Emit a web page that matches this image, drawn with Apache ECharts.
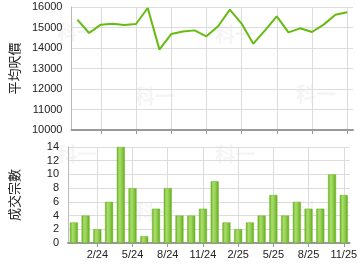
<!DOCTYPE html>
<html><head><meta charset="utf-8">
<script src="https://cdn.jsdelivr.net/npm/echarts@6/dist/echarts.min.js"></script>
<style>html,body{margin:0;padding:0;background:#fff}#c{width:360px;height:270px}</style>
</head><body><div id="c"></div>
<script>
var months = ['12/23','1/24','2/24','3/24','4/24','5/24','6/24','7/24','8/24','9/24','10/24','11/24','12/24','1/25','2/25','3/25','4/25','5/25','6/25','7/25','8/25','9/25','10/25','11/25'];
var avgPrice = [15380,14730,15140,15185,15120,15170,15950,13920,14680,14800,14860,14570,15060,15870,15190,14210,14860,15540,14760,14960,14780,15140,15620,15740];
var deals = [3,4,2,6,14,8,1,5,8,4,4,5,9,3,2,3,4,7,4,6,5,5,10,7];
var priceTitle = '平均呎價';
var dealsTitle = '成交宗數';
var watermark = '科一';

var showIdx = function(i){ return i % 3 === 2; };
var font = '"Liberation Sans", Arial, sans-serif';
var cjk = '"Noto Sans CJK TC", sans-serif';
var plain = function(v){ return String(v); };

function xAxisCfg(gridIndex, showLabel){
  return {
    type:'category', gridIndex:gridIndex, data:months, boundaryGap:true,
    axisLine:{show:true, lineStyle:{color:'#999', width:2}},
    axisTick:{show:true, interval:showIdx, alignWithLabel:true, length:4, lineStyle:{color:'#999'}},
    axisLabel:{show:showLabel, interval:showIdx, color:'#222', fontSize:11, fontFamily:font, margin:6},
    splitLine:{show:true, interval:showIdx, alignWithLabel:true, lineStyle:{color:'#dcdcdc', width:1}}
  };
}

var wm = [[57,22],[135,86],[215,24],[296,84],[57,144],[135,202],[215,144],[296,200]].map(function(p){
  return {type:'text', left:p[0], top:p[1], z:-1, style:{text:watermark, fill:'#f5f5f5', font:'bold 20px ' + cjk}};
});

var chart = echarts.init(document.getElementById('c'), null, {renderer:'canvas'});
chart.setOption({
  animation:false,
  backgroundColor:'#fff',
  graphic: wm,
  grid:[
    {left:65, right:7, top:7, height:123},
    {left:65, right:7, top:147, height:96}
  ],
  xAxis:[ xAxisCfg(0,false), xAxisCfg(1,true) ],
  yAxis:[
    {type:'value', gridIndex:0, min:10000, max:16000, interval:1000,
     name:priceTitle, nameLocation:'middle', nameGap:47, nameRotate:90,
     nameTextStyle:{fontFamily:cjk, fontSize:13, color:'#222'},
     axisLine:{show:true, lineStyle:{color:'#bbb', width:1}},
     axisTick:{show:false},
     axisLabel:{color:'#222', fontSize:11, fontFamily:font, margin:9, formatter:plain},
     splitLine:{lineStyle:{color:'#dcdcdc', width:1}}},
    {type:'value', gridIndex:1, min:0, max:14, interval:2,
     name:dealsTitle, nameLocation:'middle', nameGap:47, nameRotate:90,
     nameTextStyle:{fontFamily:cjk, fontSize:13, color:'#222'},
     axisLine:{show:true, lineStyle:{color:'#bbb', width:1}},
     axisTick:{show:false},
     axisLabel:{color:'#222', fontSize:11, fontFamily:font, margin:9, formatter:plain},
     splitLine:{lineStyle:{color:'#dcdcdc', width:1}}}
  ],
  series:[
    {type:'line', xAxisIndex:0, yAxisIndex:0, data:avgPrice, symbol:'none',
     lineStyle:{color:'#66bb11', width:2}},
    {type:'bar', xAxisIndex:1, yAxisIndex:1, data:deals, barWidth:8,
     itemStyle:{
       color: new echarts.graphic.LinearGradient(0,0,1,0,[
         {offset:0, color:'#5fab16'},
         {offset:0.3, color:'#a8db6c'},
         {offset:0.55, color:'#9ad35a'},
         {offset:1, color:'#5fab16'}
       ]),
       borderColor:'#6cb622', borderWidth:0.5
     }}
  ]
});
</script></body></html>
